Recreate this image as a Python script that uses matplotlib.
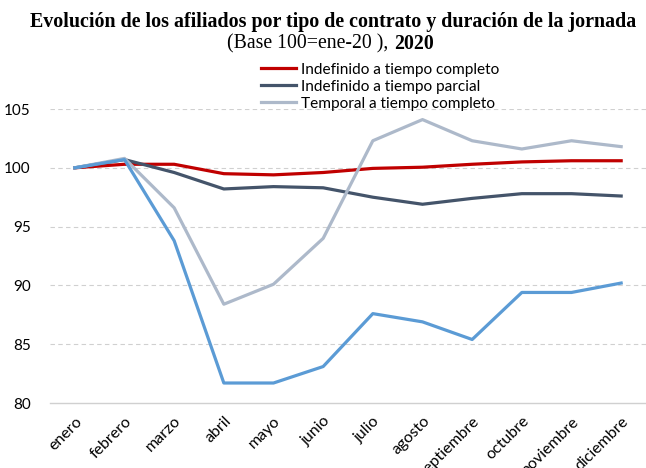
import matplotlib
matplotlib.use("Agg")
import matplotlib.pyplot as plt

MESES = ["enero", "febrero", "marzo", "abril", "mayo", "junio", "julio",
         "agosto", "septiembre", "octubre", "noviembre", "diciembre"]

IND_COMPLETO = [100.0, 100.3, 100.3, 99.5, 99.4, 99.6, 99.95, 100.05, 100.3, 100.5, 100.6, 100.6]
IND_PARCIAL = [100.0, 100.7, 99.6, 98.2, 98.4, 98.3, 97.5, 96.9, 97.4, 97.8, 97.8, 97.6]
TEMP_COMPLETO = [100.0, 100.8, 96.6, 88.4, 90.1, 94.0, 102.3, 104.1, 102.3, 101.6, 102.3, 101.8]
TEMP_PARCIAL = [100.0, 100.7, 93.8, 81.7, 81.7, 83.1, 87.6, 86.9, 85.4, 89.4, 89.4, 90.2]

plt.rcParams["font.family"] = ["Lato", "DejaVu Sans"]

fig = plt.figure(figsize=(6.46, 4.68), dpi=100)
ax = fig.add_axes([50 / 646, 65 / 468, 596 / 646, 294 / 468])

x = range(len(MESES))
l1, = ax.plot(x, IND_COMPLETO, color="#C00000", lw=2.3, label="Indefinido a tiempo completo")
l2, = ax.plot(x, IND_PARCIAL, color="#44546A", lw=2.3, label="Indefinido a tiempo parcial")
l3, = ax.plot(x, TEMP_COMPLETO, color="#ADB9CA", lw=2.3, label="Temporal a tiempo completo")
l4, = ax.plot(x, TEMP_PARCIAL, color="#5B9BD5", lw=2.3, label="Temporal a tiempo parcial")

ax.set_xlim(-0.5, len(MESES) - 0.5)
ax.set_ylim(80, 105)
ax.set_yticks([80, 85, 90, 95, 100, 105])
ax.set_xticks(list(x))
ax.set_xticklabels(MESES, rotation=45, ha="right", rotation_mode="anchor", fontsize=11.5)
ax.tick_params(axis="y", labelsize=11, length=0, pad=14)
ax.tick_params(axis="x", length=0, pad=8)

for yv in [85, 90, 95, 100, 105]:
    ax.axhline(yv, color="#D0D0D0", lw=0.8, ls=(0, (4, 3)), zorder=0)
for s in ["top", "right", "left"]:
    ax.spines[s].set_visible(False)
ax.spines["bottom"].set_color("#D0D0D0")
ax.spines["bottom"].set_linewidth(1)

fig.legend(handles=[l1, l2, l3], loc="upper left", bbox_to_anchor=(253 / 646, 1 - 55 / 468),
           frameon=False, fontsize=11.1, handlelength=2.3, handletextpad=0.3,
           labelspacing=0.2, borderpad=0)

fig.text(333 / 646, 1 - 22 / 468,
         "Evolución de los afiliados por tipo de contrato y duración de la jornada",
         family="Liberation Serif", fontweight="bold", fontsize=14.4, ha="center", va="center")
fig.text(393 / 646, 1 - 44 / 468, "(Base 100=ene-20 ), ", family="Liberation Serif",
         fontsize=14.2, ha="right", va="center")
fig.text(394 / 646, 1 - 44 / 468, "2020", family="Liberation Serif", fontweight="bold",
         fontsize=14.2, ha="left", va="center")

fig.savefig("out.png", dpi=100)
